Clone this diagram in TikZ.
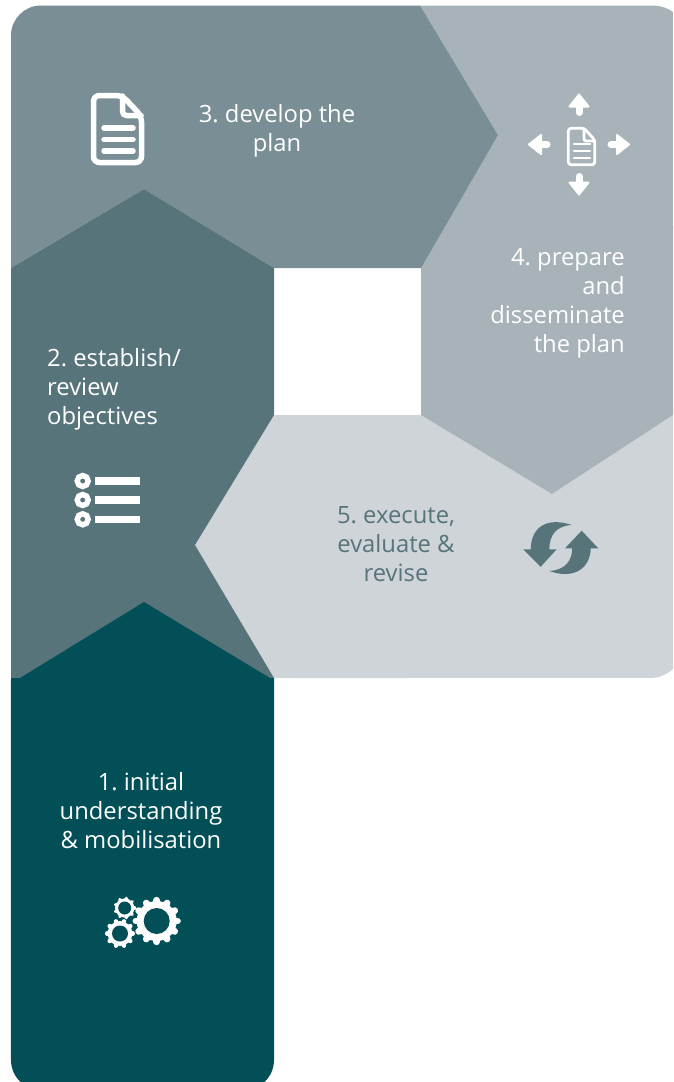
\documentclass[tikz,border=0pt]{standalone}
\usepackage{fontspec}
\setmainfont{Open Sans}
\definecolor{tealA}{HTML}{024F57}
\definecolor{tealB}{HTML}{58747B}
\definecolor{tealC}{HTML}{7A8F95}
\definecolor{tealD}{HTML}{A8B3B9}
\definecolor{tealE}{HTML}{CED4D8}
\tikzset{
	steptext/.style={inner sep=0pt,font=\frenchspacing\fontsize{23.8}{29}\selectfont},
	iconline/.style={draw=white,line cap=round,line join=round},
}
\newcommand{\gearicon}[6]{%
	\begin{scope}[shift={(#1,#2)}]
		\fill[white] (0,0) circle (0.87*#3);
		\foreach \k in {1,...,#5}{
			\draw[white,line width=0.3*#3,line cap=round] (\k*360/#5:0.8*#3)--(\k*360/#5:0.9*#3);
		}
		\fill[#6] (0,0) circle (#4);
	\end{scope}
}
\begin{document}
\begin{tikzpicture}[x=1pt,y=-1pt]
		\useasboundingbox (0,0) rectangle (673,1082);
		
		% the five panels, back to front
		\fill[tealE] (274,415)--(421,415)--(552,494)--(673,415)--(673,669) arc (47.4:90:34)--(274,678)--(195,545)--cycle;
		\fill[tealD] (420,5.5)--(653,5.5) arc (-90:-54:34)--(673,415)--(552,494)--(421,415)--(421,265)--(498,135)--cycle;
		\fill[tealC] (41,5.5)--(420,5.5)--(498,135)--(421,268)--(274,268)--(144,189)--(11,268)--(11,35.5) arc (180:270:30)--cycle;
		\fill[tealB] (11,268)--(144,189)--(274,268)--(274,415)--(195,545)--(274,678)--(11,678)--cycle;
		\fill[tealA] (11,678)--(20,678)--(144,602)--(270,678)--(274,678)--(274,1060) arc (0:47.2:30)--(20.6,1082) arc (132.8:180:30)--cycle;
		
		% texts
		\node [steptext,text=white,align=center] (develop) at (277,131) {3. develop the\\plan};
		\node [steptext,text=white,align=right,anchor=east] (prepare) at (625,303.5) {4. prepare\\and\\disseminate\\the plan};
		\node [steptext,text=white,align=left,anchor=west] (establish) at (47,389) {2. establish/\\review\\objectives};
		\node [steptext,text=tealB,align=center] (execute) at (396,544) {5. execute,\\evaluate \&\\revise};
		\node [steptext,text=white,align=center] (initial) at (141,811) {1. initial\\understanding\\\& mobilisation};
		
		% document icon
		\draw[iconline,line width=5.5pt,rounded corners=6pt] (122,95.5)--(93.5,95.5)--(93.5,162.5)--(141.5,162.5)--(141.5,116)--cycle;
		\draw[iconline,line width=5.5pt,rounded corners=4pt] (122.5,96)--(122.5,115.5)--(141,115.5);
		\foreach \y in {128,139.5,151}{
			\draw[iconline,line width=5.5pt] (104,\y)--(133,\y);
		}
		
		% small document and its four arrows
		\draw[iconline,line width=2.8pt,rounded corners=3pt] (584,128.2)--(568.3,128.2)--(568.3,164.8)--(594.8,164.8)--(594.8,140)--cycle;
		\draw[iconline,line width=2.8pt,rounded corners=2pt] (584,128.5)--(584,141)--(594.5,141);
		\foreach \y in {144,151,158}{
			\draw[iconline,line width=2.6pt] (574,\y)--(590,\y);
		}
		\foreach \a in {0,90,180,270}{
			\begin{scope}[rotate around={\a:(579,144.5)}]
				\filldraw[white,line width=2pt,line join=round] (579,94.5)--(588.5,106.5)--(569.5,106.5)--cycle;
				\draw[white,line width=7pt,line cap=round] (579,105)--(579,112.5);
			\end{scope}
		}
		
		% list icon
		\foreach \y in {481,500,519.3}{
			\draw[white,line width=5.4pt] (82.7,\y) circle (5.5);
			\fill[white] (95,\y-3.8) rectangle (140,\y+3.8);
		}
		
		% arrows going round
		\fill[tealB] (571.7,525) .. controls (548,517) and (531,526) .. (530.7,549.3)--(523.3,549.3)--(540.7,566.7)--(556.7,549.3)--(549.3,549.3) .. controls (549.5,535) and (556,526) .. cycle;
		\fill[tealB] (581.7,530.7)--(598.3,548.3)--(590.7,548.3) .. controls (590.5,568) and (574,580) .. (549.3,571) .. controls (566,570) and (572,560) .. (572.3,548.3)--(565,548.3)--cycle;
		
		% gears
		\gearicon{156.7}{921}{23}{13}{12}{tealA}
		\gearicon{124.7}{908}{11}{6.5}{9}{tealA}
		\gearicon{120}{933.5}{14.3}{8}{10}{tealA}
\end{tikzpicture}
\end{document}
